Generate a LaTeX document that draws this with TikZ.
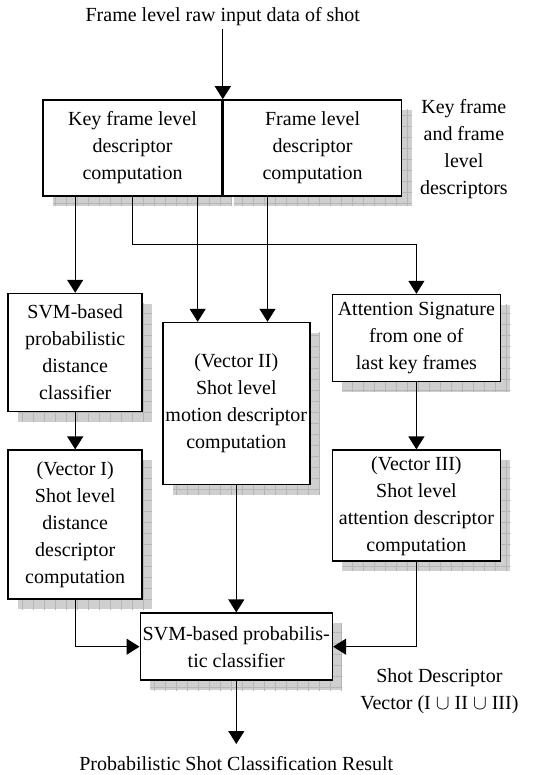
\documentclass[tikz,border=0pt]{standalone}
\usepackage{fontspec}
\setmainfont{Liberation Serif}
\usetikzlibrary{calc,arrows.meta,positioning,shadows,patterns.meta}

\begin{document}
\begin{tikzpicture}[->,>={Triangle[width=16pt,length=13pt]},line width=1.2pt,
  every node/.style={font=\fontsize{20pt}{27pt}\selectfont},
  box/.style={draw,line width=1.6pt,fill=white,align=center,inner sep=0pt,
    drop shadow={shadow xshift=10pt,shadow yshift=-10pt,opacity=1,fill=gray!38,
      postaction={pattern={Lines[distance=11pt,line width=.5pt]},pattern color=gray!58},
      postaction={pattern={Lines[angle=90,distance=11pt,line width=.5pt]},pattern color=gray!58}}},
  txt/.style={align=center,inner sep=0pt}]

  \useasboundingbox (0,0) rectangle (553pt,-775pt);

  \node[box,minimum width=179pt,minimum height=96pt] (key) at (132.5pt,-148pt) {Key frame level\\descriptor\\computation};
  \node[box,minimum width=178pt,minimum height=96pt] (frm) [right=0pt of key] {Frame level\\descriptor\\computation};
  \node[box,minimum width=134pt,minimum height=118pt] (svm) [below=96pt of key.south west,xshift=33pt] {SVM-based\\probabilistic\\distance\\classifier};
  \node[box,minimum width=134pt,minimum height=149pt] (vec1) [below=37pt of svm] {(Vector I)\\Shot level\\distance\\descriptor\\computation};
  \node[box,minimum width=147pt,minimum height=162pt] (vec2) [below=125pt of key.south east,xshift=13.5pt] {(Vector II)\\Shot level\\motion descriptor\\computation};
  \node[box,minimum width=168pt,minimum height=87pt] (att) [below=97pt of frm.south east,xshift=14pt] {Attention Signature\\from one of\\last key frames};
  \node[box,minimum width=168pt,minimum height=111pt] (vec3) [below=67pt of att] {(Vector III)\\Shot level\\attention descriptor\\computation};
  \node[box,minimum width=192pt,minimum height=67pt] (cls) [below=127pt of vec2] {SVM-based probabilis-\\tic classifier};

  \node[txt] (inp) [above=73pt of key.north east] {Frame level raw input data of shot};
  \node[txt] (desc) [right=17pt of frm.north east,anchor=north west] {Key frame\\and frame\\level\\descriptors};
  \node[txt] (res) [below=75pt of cls] {Probabilistic Shot Classification Result};
  \node[txt] (vecd) [below=106pt of vec3.south,xshift=23pt] {Shot Descriptor\\Vector (I $\cup$ II $\cup$ III)};

  \coordinate (v2l) at ($(vec2.north west)!.24!(vec2.north east)$);
  \coordinate (v2r) at ($(vec2.north west)!.71!(vec2.north east)$);

  \draw[shorten <=3pt] (inp.south) -- (key.north east);
  \draw (key.south -| svm.north) -- (svm.north);
  \draw (key.south) -- ++(0,-48pt) -| (att.north);
  \draw (key.south -| v2l) -- (v2l);
  \draw (frm.south -| v2r) -- (v2r);
  \draw (svm) -- (vec1);
  \draw (att) -- (vec3);
  \draw (vec2) -- (cls);
  \draw (vec1.south) |- (cls.west);
  \draw (vec3.south) |- (cls.east);
  \draw[shorten >=12pt] (cls) -- (res);

\end{tikzpicture}
\end{document}
